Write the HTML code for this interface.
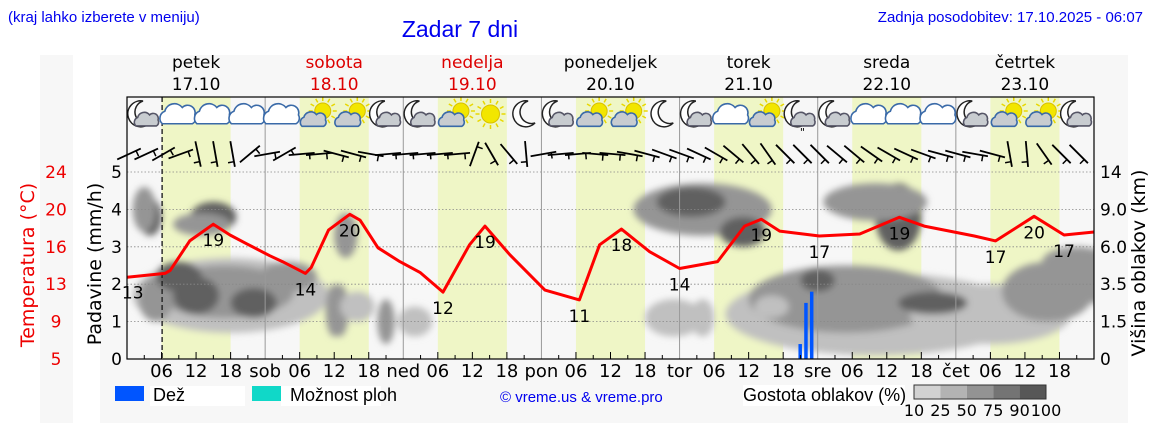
<!DOCTYPE html>
<html><head><meta charset="utf-8">
<style>
html,body{margin:0;padding:0;background:#fff;}
svg{display:block;}
text{font-family:"DejaVu Sans","Liberation Sans",sans-serif;}
.ls{font-family:"Liberation Sans",sans-serif;}
</style></head>
<body>
<svg id="chart" width="1152" height="443" viewBox="0 0 1152 443">
<defs>
<filter id="blur" x="-30%" y="-30%" width="160%" height="160%"><feGaussianBlur stdDeviation="3.5"/></filter>
<clipPath id="plotclip"><rect x="127" y="172" width="967" height="187"/></clipPath>
</defs>
<rect x="40" y="55" width="33" height="368" fill="#f7f7f7"/>
<rect x="100" y="55" width="1028" height="368" fill="#f7f7f7"/>
<text class="ls" x="8" y="22" font-size="15" fill="#0000ee">(kraj lahko izberete v meniju)</text>
<text class="ls" x="460" y="37" font-size="23" fill="#0000ee" text-anchor="middle">Zadar 7 dni</text>
<text class="ls" x="1143" y="22" font-size="15" fill="#0000ee" text-anchor="end">Zadnja posodobitev: 17.10.2025 - 06:07</text>
<g id="bands"></g>
<g id="clouds" clip-path="url(#plotclip)" filter="url(#blur)"></g>
<g id="grid"></g>
<g id="icons"></g>
<g id="wind"></g>
<g id="rain"></g>
<g id="temp"></g>
<g id="axes"></g>
<rect x="127" y="97" width="967" height="262" fill="none" stroke="#000" stroke-width="1.2"/>
<text x="0" y="0" font-size="19" fill="#ee0000" text-anchor="middle" transform="translate(34,265) rotate(-90)">Temperatura (°C)</text>
<text x="0" y="0" font-size="19" fill="#000" text-anchor="middle" transform="translate(101,264) rotate(-90)">Padavine (mm/h)</text>
<text x="0" y="0" font-size="19" fill="#000" text-anchor="middle" transform="translate(1145,263) rotate(-90)">Višina oblakov (km)</text>
<!-- legend -->
<rect x="115" y="386" width="29" height="15" fill="#0055ff"/>
<rect x="150" y="386" width="95" height="20" fill="#fff"/>
<text class="ls" x="153" y="401" font-size="18">Dež</text>
<rect x="252" y="386" width="29" height="15" fill="#10d8c8"/>
<rect x="281" y="386" width="100" height="20" fill="#fff"/>
<text class="ls" x="290" y="401" font-size="18">Možnost ploh</text>
<text class="ls" x="500" y="402" font-size="15" fill="#0000ee">© vreme.us &amp; vreme.pro</text>
<rect x="743" y="385" width="162" height="21" fill="#fff"/>
<text class="ls" x="743" y="401" font-size="18">Gostota oblakov (%)</text>
<g id="cloudlegend"></g>
</svg>
<script>
const NS='http://www.w3.org/2000/svg';
const svg=document.getElementById('chart');
function mk(tag,attrs,parent){const e=document.createElementNS(NS,tag);for(const k in attrs)e.setAttribute(k,attrs[k]);(parent||svg).appendChild(e);return e;}

// ---- data ----
const dayNames=['petek','sobota','nedelja','ponedeljek','torek','sreda','četrtek'];
const dayDates=['17.10','18.10','19.10','20.10','21.10','22.10','23.10'];
const dayAbbr=['','sob','ned','pon','tor','sre','čet'];
const weekend=[false,true,true,false,false,false,false];
const tempHours=[0,6.6,7.5,10.9,15,17.9,20.8,24.8,27,31,32,35,38.7,40.5,43.6,47.4,50.9,54.9,59.5,62.2,66.5,72.6,78.6,82.1,85.9,90.8,96,102.6,107.3,110.2,113.4,120.3,127.3,134.2,138.5,147.2,150.9,157.6,162.8,168];
const tempValues=[13.3,13.7,14.0,17.0,18.7,17.6,16.7,15.5,14.9,13.7,14.3,18.1,19.7,19.1,16.3,14.9,13.8,11.8,16.6,18.5,15.6,12.0,11.0,16.6,18.2,15.9,14.2,14.9,18.5,19.2,18.0,17.5,17.7,19.4,18.5,17.5,17.0,19.5,17.6,17.9];
const tempLabelHours=[1,15,31,38.7,54.9,62.2,78.6,85.9,96,110.2,120.3,134.2,150.9,157.6,162.8];
const tempLabelText=['13','19','14','20','12','19','11','18','14','19','17','19','17','20','17'];
const rainHours=[117,118,119];
const rainValues=[0.4,1.5,1.8];
const precipTicks=[0,1,2,3,4,5];
const tempTicks=['5','9','13','16','20','24'];
const heightTicks=['0','1.5','3.5','6.0','9.0','14'];
const iconTypes=['mc','c','c','c','c','sc','sc','mc','mc','sc','s','m','mc','sc','sc','m','mc','c','sc','mr','mc','c','c','c','mc','sc','sc','mc'];
const windAngles=[-25,-25,-30,-20,78,80,80,-40,-10,-30,-5,-5,15,15,10,-5,-5,-5,-5,-5,-70,60,50,85,-10,-5,-5,5,5,10,15,20,20,25,30,40,50,55,45,45,45,40,40,35,30,25,20,15,15,10,15,80,85,55,45,45];
// cloud blobs: hour, height(mm-axis units), hour-radius, unit-radius, density level 0..2
const cloudHour=[18,17,12,5,4,28,15,13,38,37,36,3,40,45,50,100,98,107,95,100,130,125,134,130,150,160,168,140,120,165,112,9,22];
const cloudLevel=[1.7,1.8,1.7,1.6,3.8,2.2,3.8,3.6,3.3,1.3,1.3,4.0,1.4,1.0,1.0,4.0,4.2,3.4,1.1,1.1,1.2,1.6,3.8,4.2,1.2,1.8,2.2,1.5,2.1,2.6,1.4,2.2,1.5];
const cloudHr=[17,12,4,3,2,5,4,5,2,1.5,1.5,2,3,1.5,3,12,6,4,5,2,26,17,4,9,14,8,5,6,3,6,3,4,4];
const cloudUr=[1.0,0.7,0.5,0.6,0.5,0.4,0.4,0.3,0.6,0.7,0.7,0.6,0.4,0.6,0.4,0.7,0.4,0.4,0.5,0.5,1.1,0.9,0.9,0.5,0.8,0.8,0.7,0.3,0.3,0.4,0.3,0.4,0.4];
const cloudShade=[0,1,2,1,2,1,2,1,1,1,1,1,0,1,0,1,2,2,0,0,0,1,2,1,0,1,1,2,2,1,0,2,2];

// ---- scales ----
const X0=127,X1=1094,Y0=359,YU=37.4,HOURS=168;
const xh=h=>X0+h*(X1-X0)/HOURS;
const yp=v=>Y0-v*YU;
const yt=t=>Y0-(t-5)/3.8*YU;

const bands=document.getElementById('bands');
for(let d=0;d<7;d++){
  const b=mk('rect',{x:xh(d*24+6),y:97,width:xh(18)-xh(6),height:262,fill:'#eff6c6'},bands);
  
  
  const dn=mk('text',{x:xh(d*24+12),y:68,'font-size':17,'text-anchor':'middle',fill:weekend[d]?'#dd0000':'#000'});
  dn.textContent=dayNames[d];
  
  
  const dd=mk('text',{x:xh(d*24+12),y:90,'font-size':17,'text-anchor':'middle',fill:weekend[d]?'#dd0000':'#000'});
  dd.textContent=dayDates[d];
  
  
}
const cg=document.getElementById('clouds');
const shades=['#c0c0c0','#959595','#606060'];
for(let i=0;i<cloudHour.length;i++){
  const e=mk('ellipse',{cx:xh(cloudHour[i]),cy:yp(cloudLevel[i]),rx:cloudHr[i]*5.76,ry:cloudUr[i]*YU,fill:shades[cloudShade[i]]},cg);
  
  
}
const grid=document.getElementById('grid');
for(let i=1;i<=5;i++){
  const l=mk('line',{x1:X0,x2:X1,y1:yp(i),y2:yp(i),stroke:'#888','stroke-dasharray':'1.5,2','stroke-width':0.8},grid);
  
  
}
for(let d=1;d<7;d++){
  const l=mk('line',{x1:xh(d*24),x2:xh(d*24),y1:97,y2:359,stroke:'#999','stroke-width':1},grid);
  
  
}
const now=mk('line',{x1:xh(6.1),x2:xh(6.1),y1:97,y2:359,stroke:'#222','stroke-width':1.4,'stroke-dasharray':'5,3'},grid);



const ig=document.getElementById('icons');
function cloud(g,cx,cy,s,fill,stroke){
  mk('path',{d:`M${cx-13*s},${cy+7*s} a${6*s} ${6*s} 0 0 1 ${2*s},${-10*s} a${8*s} ${8*s} 0 0 1 ${14*s},${-3*s} a${6*s} ${6*s} 0 0 1 ${10*s},${6*s} a${5*s} ${5*s} 0 0 1 ${-2*s},${7*s} z`,fill:fill,stroke:stroke,'stroke-width':1.6},g);
}
function sun(g,cx,cy,r){
  for(let a=0;a<360;a+=30){const t=a*Math.PI/180;mk('line',{x1:cx+Math.cos(t)*(r+2),y1:cy+Math.sin(t)*(r+2),x2:cx+Math.cos(t)*(r+6),y2:cy+Math.sin(t)*(r+6),stroke:'#e8d800','stroke-width':1.5},g);}
  mk('circle',{cx:cx,cy:cy,r:r,fill:'#f2e600',stroke:'#d8c000','stroke-width':1},g);
}
function moon(g,cx,cy){
  mk('path',{d:`M${cx+3},${cy-13} a13 13 0 1 0 7,22 a11 11 0 0 1 -7,-22 z`,fill:'#fff',stroke:'#222','stroke-width':1.5},g);
}
iconTypes.forEach((t,i)=>{
  const cx=145+i*34.55, cy=114;
  const g=mk('g',{},ig);
  
  
  if(t==='c'){cloud(g,cx-1,cy+1,1.25,'#fff','#3a6aa8');}
  else if(t==='mc'||t==='mr'){moon(g,cx-5,cy);cloud(g,cx+2,cy+6,0.85,'#c8ccd0','#556');if(t==='mr'){mk('text',{x:cx+1,y:cy+22,'font-size':11,'text-anchor':'middle'},g).textContent='"';}}
  else if(t==='m'){moon(g,cx,cy);}
  else if(t==='sc'){sun(g,cx+5,cy-3,8);cloud(g,cx-4,cy+6,0.9,'#c8ccd0','#3a6aa8');}
  else if(t==='s'){sun(g,cx,cy,9);}
});

const wg=document.getElementById('wind');
windAngles.forEach((a,i)=>{
  const cx=xh(i*3)+2, cy=154, L=13;
  const t=a*Math.PI/180, dx=Math.cos(t)*L, dy=Math.sin(t)*L;
  const l=mk('line',{x1:cx-dx,y1:cy-dy,x2:cx+dx,y2:cy+dy,stroke:'#000','stroke-width':1.8},wg);
  
  
  const fx=cx+dx*0.6, fy=cy+dy*0.6;
  mk('line',{x1:fx,y1:fy,x2:fx-Math.sin(t)*6,y2:fy+Math.cos(t)*6,stroke:'#000','stroke-width':1.5},wg);
});

const rg=document.getElementById('rain');
rainHours.forEach((h,i)=>{
  const r=mk('rect',{x:xh(h)-2,y:yp(rainValues[i]),width:3.5,height:rainValues[i]*YU,fill:'#0055ff'},rg);
  
  
});

const tg=document.getElementById('temp');
const tl=mk('polyline',{points:tempHours.map((h,i)=>xh(h).toFixed(1)+','+yt(tempValues[i]).toFixed(1)).join(' '),fill:'none',stroke:'#ff0000','stroke-width':3,'stroke-linejoin':'round'},tg);


function tempAt(h){for(let i=1;i<tempHours.length;i++){if(h<=tempHours[i]){const f=(h-tempHours[i-1])/(tempHours[i]-tempHours[i-1]);return tempValues[i-1]+f*(tempValues[i]-tempValues[i-1]);}}return tempValues[tempValues.length-1];}
tempLabelHours.forEach((h,i)=>{
  const t=mk('text',{x:xh(h),y:yt(tempAt(h))+22,'font-size':17,'text-anchor':'middle',fill:'#000'},tg);
  t.textContent=tempLabelText[i];
  
  
});

const ag=document.getElementById('axes');
precipTicks.forEach((v,i)=>{
  const a=mk('text',{x:122,y:yp(v)+6,'font-size':17,'text-anchor':'end'},ag);a.textContent=v;
  
  
  const b=mk('text',{x:56,y:yp(v)+6,'font-size':17,'text-anchor':'middle',fill:'#ee0000'},ag);b.textContent=tempTicks[i];
  
  
  const c=mk('text',{x:1100,y:yp(v)+6,'font-size':17},ag);c.textContent=heightTicks[i];
  
  
});
for(let h=0;h<=168;h+=3){
  mk('line',{x1:xh(h),x2:xh(h),y1:359,y2:h%24===0?359:(h%6===0?352:355),stroke:'#000','stroke-width':1},ag);
  if(h%6===0&&h<168){
    const lab=h%24===0?dayAbbr[h/24]:String(h%24).padStart(2,'0');
    if(lab){const t=mk('text',{x:xh(h),y:377,'font-size':18,'text-anchor':'middle'},ag);t.textContent=lab;
      
      }
  }
}
const cl=document.getElementById('cloudlegend');
const legCols=['#d2d2d2','#b3b3b3','#939393','#747474','#575757'];
const legLabels=['10','25','50','75','90','100'];
legCols.forEach((c,i)=>{
  const r=mk('rect',{x:914+i*26.4,y:385,width:26.4,height:14,fill:c},cl);
  
  
});
mk('rect',{x:914,y:385,width:132,height:14,fill:'none',stroke:'#333','stroke-width':1},cl);
legLabels.forEach((l,i)=>{
  const t=mk('text',{x:914+i*26.4,y:416,'font-size':16,'text-anchor':'middle'},cl);t.textContent=l;
  
  
});
</script>
</body></html>
